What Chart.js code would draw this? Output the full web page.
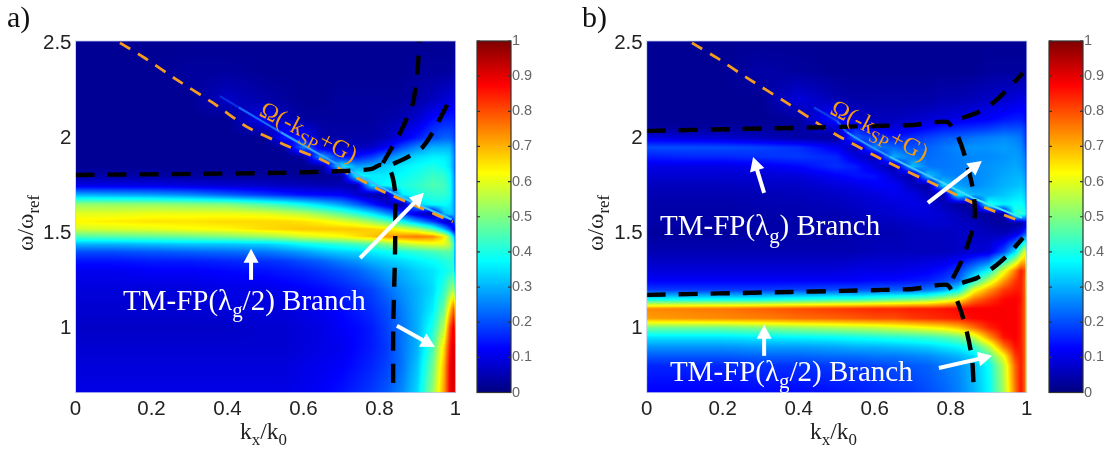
<!DOCTYPE html>
<html lang="en">
<head>
<meta charset="UTF-8" />
<title>TM-FP branches</title>
<script src="https://cdn.jsdelivr.net/npm/chart.js@4/dist/chart.umd.min.js"></script>
<style>
	body { margin: 0; background: #fff; }
	canvas { position: absolute; top: 0; filter: blur(0.4px); }
</style>
</head>
<body>
<canvas id="panelA" width="460" height="456" style="left:0"></canvas>
<canvas id="barA" width="70" height="456" style="left:470px"></canvas>
<canvas id="panelB" width="480" height="456" style="left:560px"></canvas>
<canvas id="barB" width="64" height="456" style="left:1042px"></canvas>
<script>
const xTicks = [0, 0.2, 0.4, 0.6, 0.8, 1];
const yTicks = [1, 1.5, 2, 2.5];
const barTicks = [0, 0.1, 0.2, 0.3, 0.4, 0.5, 0.6, 0.7, 0.8, 0.9, 1];

// kx positions of the grid columns, denser near the light line
const kxCols = [0, .1, .2, .3, .4, .5, .55, .6, .65, .7, .74, .78, .82, .86, .9, .94, .97, .985, .995, 1];

// panel a, values x100
const omegaA = [2.51, 2.35, 2.2, 2.1, 2, 1.95, 1.9, 1.85, 1.8, 1.75, 1.7, 1.65, 1.6, 1.56, 1.52, 1.48, 1.44, 1.4, 1.35, 1.3, 1.2, 1.1, 1, .9, .8, .66];
const powerA = [
	[2,2,2,2,2,2,2,2,2,2,2,2,2,2,2,2,2,2,2,2],
	[2,2,2,3,3,2,2,2,2,2,2,2,2,2,3,3,3,3,4,4],
	[2,2,2,2,7,4,3,2,2,3,3,3,3,3,4,6,8,9,10,8],
	[2,2,2,2,2,12,6,3,3,3,3,3,4,5,8,13,15,15,15,12],
	[2,2,2,2,2,2,15,14,4,4,4,4,6,10,15,20,22,22,20,15],
	[2,2,2,2,2,2,3,25,8,6,6,7,12,20,26,30,30,30,25,18],
	[2,2,2,2,2,2,2,3,30,14,14,18,25,30,34,36,36,34,28,18],
	[2,2,2,2,2,2,2,2,3,38,28,30,33,36,38,40,38,35,28,18],
	[4,4,4,3,3,3,3,2,2,3,38,36,36,38,40,43,42,38,30,20],
	[10,10,10,9,8,7,6,6,5,5,4,35,38,40,42,45,44,40,30,22],
	[30,29,28,26,22,18,16,14,13,12,8,4,4,36,40,42,42,40,30,22],
	[52,52,52,51,50,45,42,38,33,28,22,15,8,3,33,38,38,36,30,22],
	[60,60,61,61,61,60,58,56,52,47,42,36,28,18,8,3,30,33,30,22],
	[63,64,65,65,66,66,66,65,63,60,57,52,46,38,28,18,8,5,15,30],
	[58,59,60,62,63,66,67,68,68,68,68,67,65,60,55,45,30,20,10,12],
	[45,46,47,48,50,53,55,58,60,62,65,68,72,74,76,74,65,50,35,20],
	[30,30,31,32,32,33,35,38,40,42,44,46,50,55,58,60,60,55,45,20],
	[20,20,21,22,23,24,26,28,31,33,34,36,38,40,42,44,46,46,42,20],
	[14,14,15,15,16,17,18,20,22,25,27,30,32,34,36,38,40,42,40,20],
	[11,11,12,12,13,14,15,16,18,20,22,25,28,30,33,35,38,40,42,25],
	[9,9,9,9,10,10,11,12,13,15,17,19,23,27,30,34,42,50,55,40],
	[8,8,8,8,9,9,9,10,11,13,15,17,20,25,30,36,48,66,78,65],
	[7,7,7,7,7,8,8,9,10,12,13,15,19,24,30,40,56,80,90,80],
	[8,8,8,8,8,8,8,9,10,11,13,15,18,24,30,44,66,85,92,85],
	[9,9,9,9,9,9,9,10,11,12,14,16,19,24,32,48,70,88,93,87],
	[10,10,10,10,10,10,10,11,12,14,16,18,21,26,34,52,72,88,92,85]
];

// panel b
const omegaB = [2.51, 2.35, 2.2, 2.1, 2.05, 2, 1.95, 1.9, 1.85, 1.8, 1.75, 1.7, 1.65, 1.6, 1.55, 1.5, 1.4, 1.3, 1.25, 1.2, 1.15, 1.1, 1.05, 1, .95, .9, .85, .8, .66];
const powerB = [
	[2,2,2,2,2,2,2,2,2,2,2,2,2,2,2,2,2,2,2,2],
	[2,2,2,4,3,2,2,2,2,2,2,2,2,2,3,3,3,3,3,3],
	[2,2,2,2,9,5,4,4,4,4,4,5,5,6,7,8,9,10,10,8],
	[2,2,2,2,3,16,8,6,6,7,8,9,10,11,12,14,15,15,14,10],
	[3,3,3,3,3,8,16,9,9,11,13,15,16,17,18,20,20,20,18,12],
	[10,9,8,6,4,3,22,18,15,17,19,21,22,24,25,26,25,24,20,13],
	[20,20,20,19,17,11,5,25,22,20,22,24,26,27,27,28,27,26,22,14],
	[15,16,16,17,18,16,9,5,30,24,23,24,25,26,26,27,28,27,25,16],
	[10,10,10,11,13,17,15,9,4,32,24,24,25,26,27,28,29,28,26,18],
	[8,8,8,8,9,12,14,14,8,4,32,26,25,26,27,29,30,30,28,20],
	[6,6,6,7,7,9,10,12,12,6,3,34,28,26,28,30,31,32,30,22],
	[5,5,5,5,6,7,8,9,11,10,6,3,36,30,30,32,34,35,33,24],
	[4,4,4,5,5,6,7,8,9,10,9,6,3,3,40,36,38,38,36,26],
	[4,4,4,4,5,5,6,7,8,9,9,8,6,3,3,3,42,42,40,28],
	[4,4,4,4,4,5,5,6,6,7,8,8,7,6,4,3,3,3,8,10],
	[3,3,3,4,4,4,5,5,5,6,6,6,7,7,6,5,8,12,18,20],
	[5,5,5,5,5,5,5,6,6,6,6,6,7,8,9,20,35,50,60,50],
	[9,9,9,9,9,9,10,10,10,11,12,14,18,28,38,60,76,85,80,60],
	[12,12,12,12,12,12,12,13,13,14,15,18,22,38,55,72,82,85,78,58],
	[18,18,18,18,19,20,20,21,22,22,24,28,36,60,72,82,85,85,78,60],
	[38,38,38,38,40,42,42,44,46,48,50,55,62,76,82,87,88,86,78,62],
	[74,75,76,78,80,82,83,84,84,85,85,86,87,88,88,88,88,85,78,62],
	[72,73,74,75,77,78,79,80,80,82,83,84,85,87,88,88,88,85,78,62],
	[48,48,48,50,52,54,55,56,58,60,62,64,68,76,84,88,88,85,78,62],
	[35,35,35,36,37,38,39,40,41,42,43,45,48,56,72,86,88,85,78,62],
	[27,27,27,28,28,29,30,30,31,32,33,35,37,42,55,76,86,85,78,62],
	[21,21,21,22,22,23,23,24,24,25,26,28,30,34,44,62,82,85,78,62],
	[16,16,16,17,17,18,18,19,20,21,22,24,26,31,38,56,78,85,78,62],
	[12,12,12,13,13,14,15,16,17,18,20,22,25,30,37,54,76,86,78,62]
];

// colorbar levels
const barCols = [0, 1];
const barLevels = [1, .875, .625, .375, .125, 0];
const barPower = [[100,100],[87.5,87.5],[62.5,62.5],[37.5,37.5],[12.5,12.5],[0,0]];

// bright ridge just above the dashed orange line, gets lighter going right
const ridgeA = [[.38,2.22],[.43,2.16],[.54,2.03],[.70,1.85],[.835,1.71],[.99,1.57]];
const ridgeShadeA = ['#0a2ce0', '#1466ff', '#2f9cff', '#3fb8ff', '#30c8ff'];
const ridgeB = [[.44,2.16],[.5,2.09],[.527,2.03],[.64,1.90],[.772,1.77],[.859,1.684],[.988,1.58]];
const ridgeShadeB = ['#0a3ce8', '#1460ff', '#2a94ff', '#3cc4ff', '#40d8ff', '#40e8f0'];

const orangeA = [[.117,2.5],[.178,2.426],[.267,2.305],[.362,2.184],[.451,2.058],[.551,1.963],[.649,1.884],[.801,1.726],[.907,1.632],[.993,1.558]];
const orangeB = [[.119,2.5],[.185,2.421],[.264,2.316],[.369,2.184],[.464,2.058],[.509,2.005],[.622,1.884],[.772,1.742],[.859,1.658],[.988,1.558]];

const blackA = [
	[[0,1.805],[.328,1.811],[.538,1.816],[.714,1.826],[.78,1.837],[.801,1.858],[.822,1.847],[.833,1.805],[.841,1.716],[.841,1.411],[.836,.989],[.836,.663]],
	[[.809,1.868],[.854,2.026],[.888,2.184],[.901,2.374],[.904,2.51]],
	[[.836,1.863],[.875,1.9],[.914,1.953],[.941,2.032],[.978,2.174]]
];
const blackB = [
	[[0,2.037],[.246,2.047],[.509,2.058],[.596,2.063],[.701,2.068],[.79,2.084],[.817,2.016],[.838,1.9],[.859,1.726],[.864,1.605],[.859,1.526],[.832,1.368],[.803,1.253],[.79,1.226]],
	[[.83,2.105],[.869,2.132],[.911,2.184],[.948,2.253],[.99,2.342]],
	[[0,1.174],[.377,1.189],[.509,1.195],[.622,1.2],[.701,1.205],[.79,1.226],[.817,1.142],[.838,1.016],[.856,.842],[.861,.66]],
	[[.83,1.237],[.869,1.263],[.911,1.316],[.948,1.379],[.99,1.474]]
];

// white arrows, tail then tip
const arrowsA = [[[.462,1.253],[.462,1.416]], [[.749,1.368],[.917,1.711]], [[.846,1.011],[.946,.9]]];
const arrowsB = [[[.309,1.711],[.28,1.9]], [[.74,1.658],[.882,1.879]], [[.309,.853],[.309,1.016]], [[.769,.789],[.909,.853]]];

const labelsA = [
	{ at: [.125, 1.095], size: 29, color: '#fff', parts: [['TM-FP(λ', 0], ['g', 1], ['/2) Branch', 0]] },
	{ at: [.48, 2.12], size: 24.5, color: '#f39c12', rot: 27, parts: [['Ω(-k', 0], ['SP', 1], ['+G)', 0]] }
];
const labelsB = [
	{ at: [.035, 1.489], size: 29, color: '#fff', parts: [['TM-FP(λ', 0], ['g', 1], [') Branch', 0]] },
	{ at: [.061, .721], size: 29, color: '#fff', parts: [['TM-FP(λ', 0], ['g', 1], ['/2) Branch', 0]] },
	{ at: [.479, 2.13], size: 24.5, color: '#f39c12', rot: 27, parts: [['Ω(-k', 0], ['SP', 1], ['+G)', 0]] }
];

function jet(v) {
	const r = Math.min(4 * v - 1.5, -4 * v + 4.5);
	const g = Math.min(4 * v - 0.5, -4 * v + 3.5);
	const b = Math.min(4 * v + 0.5, -4 * v + 2.5);
	return [r, g, b].map((c) => 255 * Math.max(0, Math.min(1, c)));
}

function toPoints(list) {
	return list.map((p) => ({ x: p[0], y: p[1] }));
}

// finds the grid segment each pixel falls in
function segment(axis, value) {
	for (let i = 0; i < axis.length - 1; i++) {
		const lo = axis[i], hi = axis[i + 1];
		if (value >= Math.min(lo, hi) && value <= Math.max(lo, hi)) {
			return [i, (value - lo) / (hi - lo)];
		}
	}
	return value < Math.min(axis[0], axis[axis.length - 1])
		? (axis[0] < axis[1] ? [0, 0] : [axis.length - 2, 1])
		: (axis[0] < axis[1] ? [axis.length - 2, 1] : [0, 0]);
}

function writeText(ctx, t, x, y) {
	ctx.save();
	ctx.translate(x, y);
	ctx.rotate((t.rot || 0) * Math.PI / 180);
	ctx.fillStyle = t.color;
	ctx.textAlign = 'left';
	ctx.textBaseline = 'alphabetic';
	let dx = 0;
	t.parts.forEach((p) => {
		ctx.font = (p[1] ? t.size * 0.72 : t.size) + 'px "Liberation Serif"';
		ctx.fillText(p[0], dx, p[1] ? t.size * 0.26 : 0);
		dx += ctx.measureText(p[0]).width;
	});
	ctx.restore();
}

// shaded mesh under the datasets, like pcolor with interp shading
const heatPlugin = {
	id: 'heat',
	beforeDatasetsDraw(chart, args, opts) {
		const area = chart.chartArea;
		const x = chart.scales.x, y = chart.scales.y;
		const left = Math.round(area.left), top = Math.round(area.top);
		const w = Math.round(area.right) - left, h = Math.round(area.bottom) - top;
		const off = document.createElement('canvas');
		off.width = w;
		off.height = h;
		const octx = off.getContext('2d');
		const img = octx.createImageData(w, h);
		const colSeg = [], rowSeg = [];
		for (let i = 0; i < w; i++) colSeg.push(segment(opts.cols, x.getValueForPixel(left + i + 0.5)));
		for (let j = 0; j < h; j++) rowSeg.push(segment(opts.rows, y.getValueForPixel(top + j + 0.5)));
		for (let j = 0; j < h; j++) {
			const [r, fr] = rowSeg[j];
			for (let i = 0; i < w; i++) {
				const [c, fc] = colSeg[i];
				const v = (opts.grid[r][c] * (1 - fc) + opts.grid[r][c + 1] * fc) * (1 - fr)
					+ (opts.grid[r + 1][c] * (1 - fc) + opts.grid[r + 1][c + 1] * fc) * fr;
				const rgb = jet(v / 100);
				const k = (j * w + i) * 4;
				img.data[k] = rgb[0];
				img.data[k + 1] = rgb[1];
				img.data[k + 2] = rgb[2];
				img.data[k + 3] = 255;
			}
		}
		octx.putImageData(img, 0, 0);
		chart.ctx.drawImage(off, left, top);
	}
};

// arrows, labels in data coordinates, plus the frame text around the plot
const notesPlugin = {
	id: 'notes',
	afterDatasetsDraw(chart, args, opts) {
		const ctx = chart.ctx, a = chart.chartArea;
		const x = chart.scales.x, y = chart.scales.y;
		ctx.save();
		ctx.strokeStyle = 'rgba(190,200,240,0.8)';
		ctx.lineWidth = 1;
		ctx.strokeRect(a.left, a.top, a.right - a.left, a.bottom - a.top);
		ctx.restore();
		(opts.arrows || []).forEach((ar) => {
			const x0 = x.getPixelForValue(ar[0][0]), y0 = y.getPixelForValue(ar[0][1]);
			const x1 = x.getPixelForValue(ar[1][0]), y1 = y.getPixelForValue(ar[1][1]);
			const ang = Math.atan2(y1 - y0, x1 - x0);
			ctx.save();
			ctx.translate(x1, y1);
			ctx.rotate(ang);
			ctx.fillStyle = '#fff';
			ctx.strokeStyle = '#fff';
			ctx.lineWidth = 4;
			ctx.beginPath();
			ctx.moveTo(-Math.hypot(x1 - x0, y1 - y0), 0);
			ctx.lineTo(-8, 0);
			ctx.stroke();
			ctx.beginPath();
			ctx.moveTo(0, 0);
			ctx.lineTo(-14, -7.5);
			ctx.lineTo(-14, 7.5);
			ctx.closePath();
			ctx.fill();
			ctx.restore();
		});
		(opts.labels || []).forEach((t) => writeText(ctx, t, x.getPixelForValue(t.at[0]), y.getPixelForValue(t.at[1])));
		(opts.frame || []).forEach((t) => writeText(ctx, t, t.px[0], t.px[1]));
	}
};

// dark border and small inner ticks of the colorbar
const barFramePlugin = {
	id: 'barFrame',
	afterDatasetsDraw(chart) {
		const ctx = chart.ctx, a = chart.chartArea, y = chart.scales.y;
		ctx.save();
		ctx.strokeStyle = '#333';
		ctx.lineWidth = 1.2;
		ctx.strokeRect(a.left, a.top, a.right - a.left, a.bottom - a.top);
		barTicks.forEach((v) => {
			const py = y.getPixelForValue(v);
			ctx.beginPath();
			ctx.moveTo(a.left, py);
			ctx.lineTo(a.left + 3, py);
			ctx.moveTo(a.right - 3, py);
			ctx.lineTo(a.right, py);
			ctx.stroke();
		});
		ctx.restore();
	}
};

function drawPanel(id, o) {
	const datasets = [];
	o.black.forEach((curve) => datasets.push({
		data: toPoints(curve), showLine: true, pointRadius: 0, tension: 0.2,
		borderColor: '#000', borderWidth: 4.4, borderDash: [19, 13], order: 1
	}));
	datasets.push({
		data: toPoints(o.orange), showLine: true, pointRadius: 0, tension: 0.2,
		borderColor: '#f39c1f', borderWidth: 2.8, borderDash: [12, 9], order: 2
	});
	datasets.push({
		data: toPoints(o.ridge), showLine: true, pointRadius: 0, tension: 0.2,
		borderColor: o.ridgeShade[0], borderWidth: 2.2, order: 3,
		segment: { borderColor: (c) => o.ridgeShade[c.p0DataIndex] }
	});
	new Chart(document.getElementById(id), {
		type: 'scatter',
		data: { datasets },
		plugins: [heatPlugin, notesPlugin],
		options: {
			responsive: false,
			animation: false,
			layout: { padding: { left: 0, right: o.padRight, top: 41, bottom: 0 } },
			scales: {
				x: {
					min: 0, max: 1,
					grid: { display: false, drawTicks: false }, border: { display: false },
					afterFit: (s) => { s.height = 63.5; s.paddingLeft = 0; s.paddingRight = 0; },
					afterBuildTicks: (s) => { s.ticks = xTicks.map((v) => ({ value: v })); },
					ticks: { color: '#222', font: { family: 'Liberation Sans', size: 20.5 }, padding: 5, maxRotation: 0, callback: (v) => String(v) }
				},
				y: {
					min: 0.66, max: 2.51,
					grid: { display: false, drawTicks: false }, border: { display: false },
					afterFit: (s) => { s.width = o.yWidth; s.paddingTop = 0; s.paddingBottom = 0; },
					afterBuildTicks: (s) => { s.ticks = yTicks.map((v) => ({ value: v })); },
					ticks: { color: '#222', font: { family: 'Liberation Sans', size: 20.5 }, padding: 4, callback: (v) => String(v) }
				}
			},
			plugins: {
				legend: { display: false },
				tooltip: { enabled: false },
				heat: { cols: kxCols, rows: o.rows, grid: o.grid },
				notes: { arrows: o.arrows, labels: o.labels, frame: o.frame }
			}
		}
	});
}

function drawBar(id, axisWidth) {
	new Chart(document.getElementById(id), {
		type: 'scatter',
		data: { datasets: [{ data: [], pointRadius: 0 }] },
		plugins: [heatPlugin, barFramePlugin],
		options: {
			responsive: false,
			animation: false,
			layout: { padding: { left: 7, right: 0, top: 41, bottom: 63.5 } },
			scales: {
				x: { min: 0, max: 1, display: false },
				y: {
					position: 'right',
					min: 0, max: 1,
					grid: { display: false, drawTicks: false }, border: { display: false },
					afterFit: (s) => { s.width = axisWidth; s.paddingTop = 0; s.paddingBottom = 0; },
					afterBuildTicks: (s) => { s.ticks = barTicks.map((v) => ({ value: v })); },
					ticks: { color: '#666', font: { family: 'Liberation Sans', size: 14.5 }, padding: 1, callback: (v) => String(v) }
				}
			},
			plugins: {
				legend: { display: false },
				tooltip: { enabled: false },
				heat: { cols: barCols, rows: barLevels, grid: barPower }
			}
		}
	});
}

drawPanel('panelA', {
	rows: omegaA, grid: powerA, black: blackA, orange: orangeA, ridge: ridgeA, ridgeShade: ridgeShadeA,
	arrows: arrowsA, labels: labelsA, yWidth: 75.5, padRight: 4.5,
	frame: [
		{ px: [7, 27], size: 30, color: '#111', parts: [['a)', 0]] },
		{ px: [240, 439], size: 23.5, color: '#222', parts: [['k', 0], ['x', 1], ['/k', 0], ['0', 1]] },
		{ px: [33, 251], size: 23.5, color: '#222', rot: -90, parts: [['ω/ω', 0], ['ref', 1]] }
	]
});
drawBar('barA', 29);
drawPanel('panelB', {
	rows: omegaB, grid: powerB, black: blackB, orange: orangeB, ridge: ridgeB, ridgeShade: ridgeShadeB,
	arrows: arrowsB, labels: labelsB, yWidth: 86.7, padRight: 13.3,
	frame: [
		{ px: [22, 27], size: 30, color: '#111', parts: [['b)', 0]] },
		{ px: [250, 439], size: 23.5, color: '#222', parts: [['k', 0], ['x', 1], ['/k', 0], ['0', 1]] },
		{ px: [43, 251], size: 23.5, color: '#222', rot: -90, parts: [['ω/ω', 0], ['ref', 1]] }
	]
});
drawBar('barB', 23);
</script>
</body>
</html>
